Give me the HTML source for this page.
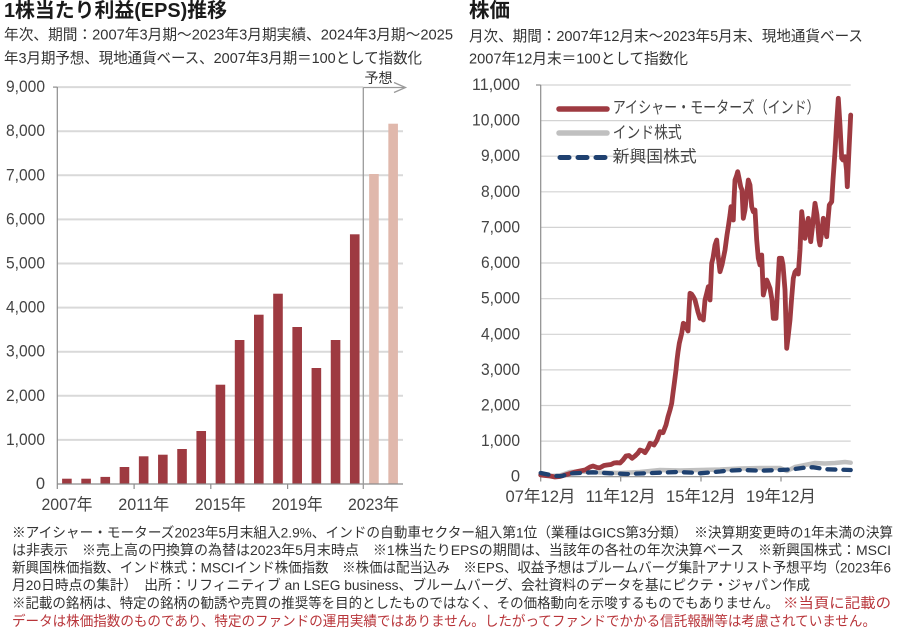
<!DOCTYPE html>
<html><head><meta charset="utf-8">
<style>
html,body{margin:0;padding:0;background:#fff;}
svg{display:block;}
text{font-family:"Liberation Sans","Noto Sans CJK JP",sans-serif;}
</style></head>
<body>
<svg width="922" height="630" viewBox="0 0 922 630" xmlns="http://www.w3.org/2000/svg">
<rect width="922" height="630" fill="#fff"/>

<!-- Left titles -->
<text x="4" y="11" dominant-baseline="central" font-size="20" font-weight="bold" fill="#1a1a1a" textLength="223" lengthAdjust="spacingAndGlyphs">1株当たり利益(EPS)推移</text>
<text x="4" y="35" dominant-baseline="central" font-size="15" fill="#333" textLength="449" lengthAdjust="spacingAndGlyphs">年次、期間：2007年3月期～2023年3月期実績、2024年3月期～2025</text>
<text x="4" y="58.5" dominant-baseline="central" font-size="15" fill="#333" textLength="418" lengthAdjust="spacingAndGlyphs">年3月期予想、現地通貨ベース、2007年3月期＝100として指数化</text>

<!-- Right titles -->
<text x="469" y="11" dominant-baseline="central" font-size="20" font-weight="bold" fill="#1a1a1a" textLength="41" lengthAdjust="spacingAndGlyphs">株価</text>
<text x="469" y="36.5" dominant-baseline="central" font-size="15" fill="#333" textLength="394" lengthAdjust="spacingAndGlyphs">月次、期間：2007年12月末～2023年5月末、現地通貨ベース</text>
<text x="469" y="59" dominant-baseline="central" font-size="15" fill="#333" textLength="219" lengthAdjust="spacingAndGlyphs">2007年12月末＝100として指数化</text>

<!-- LEFT CHART -->
<g stroke="#d9d9d9" stroke-width="2">
<line x1="57.3" y1="439.9" x2="403" y2="439.9"/>
<line x1="57.3" y1="395.8" x2="403" y2="395.8"/>
<line x1="57.3" y1="351.7" x2="403" y2="351.7"/>
<line x1="57.3" y1="307.6" x2="403" y2="307.6"/>
<line x1="57.3" y1="263.5" x2="403" y2="263.5"/>
<line x1="57.3" y1="219.4" x2="403" y2="219.4"/>
<line x1="57.3" y1="175.3" x2="403" y2="175.3"/>
<line x1="57.3" y1="131.2" x2="403" y2="131.2"/>
<line x1="57.3" y1="87.1" x2="363.3" y2="87.1"/>
</g>
<g fill="#9e3a41">
<rect x="62.1" y="478.7" width="9.6" height="5.3"/>
<rect x="81.29" y="478.7" width="9.6" height="5.3"/>
<rect x="100.48" y="476.9" width="9.6" height="7.1"/>
<rect x="119.67" y="467" width="9.6" height="17"/>
<rect x="138.86" y="456.3" width="9.6" height="27.7"/>
<rect x="158.05" y="454.7" width="9.6" height="29.3"/>
<rect x="177.24" y="449" width="9.6" height="35"/>
<rect x="196.43" y="431" width="9.6" height="53"/>
<rect x="215.62" y="384.7" width="9.6" height="99.3"/>
<rect x="234.81" y="340" width="9.6" height="144"/>
<rect x="254.0" y="314.7" width="9.6" height="169.3"/>
<rect x="273.19" y="293.7" width="9.6" height="190.3"/>
<rect x="292.38" y="327" width="9.6" height="157"/>
<rect x="311.57" y="368" width="9.6" height="116"/>
<rect x="330.76" y="340" width="9.6" height="144"/>
<rect x="349.95" y="234.3" width="9.6" height="249.7"/>
</g>
<g fill="#e0b8ac">
<rect x="369.14" y="174" width="9.6" height="310"/>
<rect x="388.33" y="123.7" width="9.6" height="360.3"/>
</g>
<!-- axes left -->
<g stroke="#8c8c8c" stroke-width="1.2" fill="none">
<line x1="57.3" y1="87" x2="57.3" y2="484"/>
<line x1="53" y1="87.1" x2="57.3" y2="87.1"/>
<line x1="57.3" y1="484" x2="403" y2="484"/>
<line x1="57.3" y1="484" x2="57.3" y2="489"/>
<line x1="134.1" y1="484" x2="134.1" y2="489"/>
<line x1="210.8" y1="484" x2="210.8" y2="489"/>
<line x1="287.6" y1="484" x2="287.6" y2="489"/>
</g>
<!-- forecast marker -->
<g stroke="#9a9a9a" stroke-width="1.3" fill="none">
<line x1="363.3" y1="87.5" x2="363.3" y2="489"/>
<line x1="363.3" y1="87.5" x2="405" y2="87.5"/>
<polyline points="394,82.5 405.5,87.5 394,92.5"/>
</g>
<text x="378.5" y="78" dominant-baseline="central" text-anchor="middle" font-size="14" fill="#333">予想</text>

<g font-size="16.5" fill="#444" text-anchor="end">
<text x="45" y="484" dominant-baseline="central">0</text>
<text x="45" y="439.9" dominant-baseline="central" textLength="39" lengthAdjust="spacingAndGlyphs">1,000</text>
<text x="45" y="395.8" dominant-baseline="central" textLength="39" lengthAdjust="spacingAndGlyphs">2,000</text>
<text x="45" y="351.7" dominant-baseline="central" textLength="39" lengthAdjust="spacingAndGlyphs">3,000</text>
<text x="45" y="307.6" dominant-baseline="central" textLength="39" lengthAdjust="spacingAndGlyphs">4,000</text>
<text x="45" y="263.5" dominant-baseline="central" textLength="39" lengthAdjust="spacingAndGlyphs">5,000</text>
<text x="45" y="219.4" dominant-baseline="central" textLength="39" lengthAdjust="spacingAndGlyphs">6,000</text>
<text x="45" y="175.3" dominant-baseline="central" textLength="39" lengthAdjust="spacingAndGlyphs">7,000</text>
<text x="45" y="131.2" dominant-baseline="central" textLength="39" lengthAdjust="spacingAndGlyphs">8,000</text>
<text x="45" y="87.1" dominant-baseline="central" textLength="39" lengthAdjust="spacingAndGlyphs">9,000</text>
</g>
<g font-size="16.5" fill="#444" text-anchor="middle">
<text x="67" y="505" dominant-baseline="central" textLength="51" lengthAdjust="spacingAndGlyphs">2007年</text>
<text x="143.7" y="505" dominant-baseline="central" textLength="51" lengthAdjust="spacingAndGlyphs">2011年</text>
<text x="220.4" y="505" dominant-baseline="central" textLength="51" lengthAdjust="spacingAndGlyphs">2015年</text>
<text x="297.2" y="505" dominant-baseline="central" textLength="51" lengthAdjust="spacingAndGlyphs">2019年</text>
<text x="373.5" y="505" dominant-baseline="central" textLength="51" lengthAdjust="spacingAndGlyphs">2023年</text>
</g>

<!-- RIGHT CHART -->
<g stroke="#d3d3d3" stroke-width="1.2">
<line x1="540.7" y1="441.1" x2="850.7" y2="441.1"/>
<line x1="540.7" y1="405.5" x2="850.7" y2="405.5"/>
<line x1="540.7" y1="369.9" x2="850.7" y2="369.9"/>
<line x1="540.7" y1="334.3" x2="850.7" y2="334.3"/>
<line x1="540.7" y1="298.7" x2="850.7" y2="298.7"/>
<line x1="540.7" y1="263.0" x2="850.7" y2="263.0"/>
<line x1="540.7" y1="227.4" x2="850.7" y2="227.4"/>
<line x1="540.7" y1="191.8" x2="850.7" y2="191.8"/>
<line x1="540.7" y1="156.2" x2="850.7" y2="156.2"/>
<line x1="540.7" y1="120.6" x2="850.7" y2="120.6"/>
<line x1="540.7" y1="85.0" x2="850.7" y2="85.0"/>
</g>
<g stroke="#8c8c8c" stroke-width="1.2" fill="none">
<line x1="540.7" y1="85" x2="540.7" y2="476.7"/>
<line x1="536" y1="85" x2="540.7" y2="85"/>
<line x1="540.7" y1="476.7" x2="850.7" y2="476.7"/>
<line x1="540.7" y1="476.7" x2="540.7" y2="481.5"/>
<line x1="620.7" y1="476.7" x2="620.7" y2="481.5"/>
<line x1="701" y1="476.7" x2="701" y2="481.5"/>
<line x1="781" y1="476.7" x2="781" y2="481.5"/>
</g>

<!-- India stock (gray) -->
<polyline fill="none" stroke="#c0c0c0" stroke-width="4.5" stroke-linejoin="round" stroke-linecap="round" points="540.7,473 550,476 560,475.5 570,472 580,471.5 600,472.5 620,473 640,472 660,470 680,470.5 700,470 720,469.5 740,468.5 760,468 780,468 787,471 795,467 805,465 815,463 825,463.5 835,463 845,462 850.7,462.7"/>

<!-- Eicher (red) -->
<polyline fill="none" stroke="#9e3a41" stroke-width="4.8" stroke-linejoin="round" stroke-linecap="round" points="540.7,475 545,475.5 550,476 555,477 560,476.5 565,475 570,473.5 575,472 580,471 585,470 590,467 593,466 597,467.5 600,467.7 604,465.5 607,465 611,464.5 614,463 617,462.7 620,463 623,460 626,456 629,455.5 632,458.3 635,456 638,453 640,450 643,451 645,452.7 648,448 650,443.3 652,444 654,445 657,440 660,431.7 663,432.7 666,425 668,416.7 670,410 671.7,403.3 673,393 674.3,383.3 676,370 677,360 678,352 679.3,343.3 681.7,333.3 683.3,323.3 684.5,324 686,326.7 688,331 689,310 690,293.3 691.5,294 693.3,296.7 695,300 696.7,306.7 698,312 700,318.3 702,318 703.3,320 705,300 706.7,293.3 708.3,286.7 710,300 711.7,263.3 713,258 715,245 716.7,240 718,255 720,271.7 722,265 725,250 727,235 728.3,226.7 730,215 731,206.7 733.3,220 734,200 735,180 736.5,176 737.7,171.7 739,178 740.7,186.7 742,190 743.3,218.3 745,210 746.7,193.3 748.3,180 750,185 751.7,206.7 753.3,211.7 755,210 756.7,240 758.3,258.3 760,265 761.7,255 763.3,295 765,288 766.7,280 768,283 770,288.3 772,300 773.3,318.3 776,318.3 777.5,290 779.3,258.3 781.7,258.3 783,265 785,290 786.7,348.3 788,338 790,320 791.5,300 793.3,278.3 795,272 796.7,270 798.3,274 800,250 801.7,211.7 803.3,225 805,238.3 806.5,228 808.3,218.3 810.7,241.7 812.7,225 815,203.3 817,215 819,240 820,245 822,230 823.3,218.3 825,228 826.7,236.7 828,220 829.3,205 831.7,201.7 833,180 835,151.7 836.5,125 838.3,98.3 840,125 841.7,158.3 843,160 845,156.7 846.5,170 847.3,186.7 849,150 850.7,115"/>

<!-- EM (blue dashed) -->
<polyline fill="none" stroke="#1f4170" stroke-width="4.3" stroke-linejoin="round" stroke-linecap="round" stroke-dasharray="8 8" points="540.7,473 548,474.5 556,476 562,476 570,473.5 580,473 593,472.3 610,473.3 627,474 640,473.5 660,472.7 677,472 693,472.7 700,473.3 720,471.5 727,470.7 743,470 760,470.7 780,470 793,469.3 807,467.3 813,467.3 827,469.3 850.7,470"/>

<!-- legend -->
<line x1="559" y1="109" x2="607" y2="109" stroke="#9e3a41" stroke-width="5.5" stroke-linecap="round"/>
<line x1="559" y1="133" x2="607" y2="133" stroke="#c0c0c0" stroke-width="5.5" stroke-linecap="round"/>
<line x1="560" y1="157.5" x2="606" y2="157.5" stroke="#1f4170" stroke-width="5" stroke-linecap="round" stroke-dasharray="9 9"/>
<g font-size="16.5" fill="#444">
<text x="612.7" y="108" dominant-baseline="central" textLength="207" lengthAdjust="spacingAndGlyphs">アイシャー・モーターズ（インド）</text>
<text x="612.7" y="133" dominant-baseline="central" textLength="69" lengthAdjust="spacingAndGlyphs">インド株式</text>
<text x="612.7" y="157" dominant-baseline="central" textLength="84" lengthAdjust="spacingAndGlyphs">新興国株式</text>
</g>

<g font-size="16.5" fill="#444" text-anchor="end">
<text x="520" y="476.7" dominant-baseline="central">0</text>
<text x="520" y="441.1" dominant-baseline="central" textLength="39" lengthAdjust="spacingAndGlyphs">1,000</text>
<text x="520" y="405.5" dominant-baseline="central" textLength="39" lengthAdjust="spacingAndGlyphs">2,000</text>
<text x="520" y="369.9" dominant-baseline="central" textLength="39" lengthAdjust="spacingAndGlyphs">3,000</text>
<text x="520" y="334.3" dominant-baseline="central" textLength="39" lengthAdjust="spacingAndGlyphs">4,000</text>
<text x="520" y="298.7" dominant-baseline="central" textLength="39" lengthAdjust="spacingAndGlyphs">5,000</text>
<text x="520" y="263.0" dominant-baseline="central" textLength="39" lengthAdjust="spacingAndGlyphs">6,000</text>
<text x="520" y="227.4" dominant-baseline="central" textLength="39" lengthAdjust="spacingAndGlyphs">7,000</text>
<text x="520" y="191.8" dominant-baseline="central" textLength="39" lengthAdjust="spacingAndGlyphs">8,000</text>
<text x="520" y="156.2" dominant-baseline="central" textLength="39" lengthAdjust="spacingAndGlyphs">9,000</text>
<text x="520" y="120.6" dominant-baseline="central" textLength="48" lengthAdjust="spacingAndGlyphs">10,000</text>
<text x="520" y="85.0" dominant-baseline="central" textLength="48" lengthAdjust="spacingAndGlyphs">11,000</text>
</g>
<g font-size="16.5" fill="#444" text-anchor="middle">
<text x="540.5" y="497" dominant-baseline="central" textLength="70" lengthAdjust="spacingAndGlyphs">07年12月</text>
<text x="620.7" y="497" dominant-baseline="central" textLength="70" lengthAdjust="spacingAndGlyphs">11年12月</text>
<text x="701" y="497" dominant-baseline="central" textLength="70" lengthAdjust="spacingAndGlyphs">15年12月</text>
<text x="781" y="497" dominant-baseline="central" textLength="70" lengthAdjust="spacingAndGlyphs">19年12月</text>
</g>

<!-- Footnotes -->
<g font-size="14" fill="#333">
<text x="12" y="532.5" dominant-baseline="central" textLength="881" lengthAdjust="spacingAndGlyphs">※アイシャー・モーターズ2023年5月末組入2.9%、インドの自動車セクター組入第1位（業種はGICS第3分類）　※決算期変更時の1年未満の決算</text>
<text x="12" y="550" dominant-baseline="central" textLength="879" lengthAdjust="spacingAndGlyphs">は非表示　※売上高の円換算の為替は2023年5月末時点　※1株当たりEPSの期間は、当該年の各社の年次決算ベース　※新興国株式：MSCI</text>
<text x="12" y="567.5" dominant-baseline="central" textLength="879" lengthAdjust="spacingAndGlyphs">新興国株価指数、インド株式：MSCIインド株価指数　※株価は配当込み　※EPS、収益予想はブルームバーグ集計アナリスト予想平均（2023年6</text>
<text x="12" y="585" dominant-baseline="central" textLength="798" lengthAdjust="spacingAndGlyphs">月20日時点の集計）　出所：リフィニティブ an LSEG business、ブルームバーグ、会社資料のデータを基にピクテ・ジャパン作成</text>
<text x="12" y="603" dominant-baseline="central" textLength="767" lengthAdjust="spacingAndGlyphs">※記載の銘柄は、特定の銘柄の勧誘や売買の推奨等を目的としたものではなく、その価格動向を示唆するものでもありません。</text>
<text x="783" y="603" dominant-baseline="central" fill="#b8353a" textLength="108" lengthAdjust="spacingAndGlyphs">※当頁に記載の</text>
<text x="12" y="621" dominant-baseline="central" fill="#b8353a" textLength="864" lengthAdjust="spacingAndGlyphs">データは株価指数のものであり、特定のファンドの運用実績ではありません。したがってファンドでかかる信託報酬等は考慮されていません。</text>
</g>
</svg>
</body></html>
